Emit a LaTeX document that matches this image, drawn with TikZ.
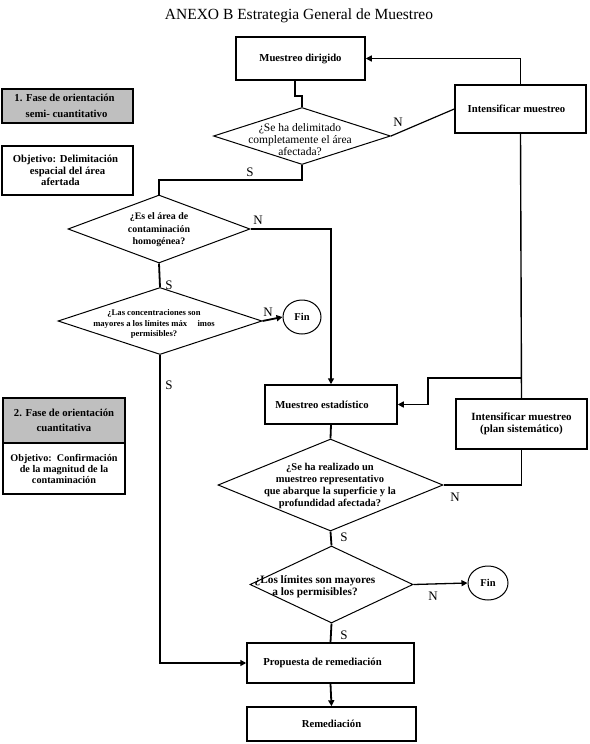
\documentclass[tikz,border=0pt]{standalone}
\usepackage{fontspec}
\setmainfont{Liberation Serif}
\usetikzlibrary{shapes.geometric,arrows.meta,calc}
\begin{document}
\begin{tikzpicture}[x=1pt,y=-1pt,
  box/.style={draw,line width=1.5pt,rectangle,inner sep=0pt,align=center,font=\bfseries\fontsize{10.7}{11.5}\selectfont},
  graybox/.style={box,fill=black!25,font=\bfseries\fontsize{10.7}{15.5}\selectfont},
  dia/.style={draw,line width=1pt,diamond,inner sep=0pt},
  diatext/.style={inner sep=0pt,align=center},
  finnode/.style={draw,line width=1pt,ellipse,inner sep=0pt,font=\bfseries\fontsize{10.5}{12}\selectfont},
  conn/.style={line width=1.8pt},
  arr/.style={conn,-{Triangle[length=6pt,width=6pt]}},
  lab/.style={font=\fontsize{13}{14}\selectfont,inner sep=0pt}]
\useasboundingbox (0,0) rectangle (589,744);
\node[font=\fontsize{15.5}{17}\selectfont] (title) at (299,16) {ANEXO B Estrategia General de Muestreo};

\node[box,minimum width=129pt,minimum height=43pt] (md) at (300.5,58.5) {Muestreo dirigido};
\node[dia,minimum width=177pt,minimum height=57pt,aspect=3.105] (d1) at (302,136) {};
\node[diatext,font=\fontsize{11.5}{12}\selectfont] (t1) at (300,140) {¿Se ha delimitado\\completamente el área\\afectada?};
\node[box,minimum width=131pt,minimum height=48pt] (int1) at (520.5,109) {Intensificar muestreo\hspace*{8pt}};

\node[graybox,minimum width=131pt,minimum height=34pt] (f1) at (67.5,106) {1. Fase de orientación\hspace*{6pt}\\\hspace*{4pt}semi- cuantitativo\hspace*{6pt}};
\node[box,minimum width=131pt,minimum height=49pt] (o1) at (67.5,170.5) {Objetivo: Delimitación\hspace*{4pt}\\espacial del área\hspace*{16pt}\\afertada\hspace*{14pt}};

\node[dia,minimum width=182pt,minimum height=68pt,aspect=2.676] (d2) at (159,229) {};
\node[diatext,font=\bfseries\fontsize{9.9}{12.5}\selectfont] (t2) at (159,230) {¿Es el área de\\contaminación\\homogénea?};
\node[dia,minimum width=204pt,minimum height=67pt,aspect=3.045] (d3) at (160,321) {};
\node[diatext,font=\bfseries\fontsize{8.6}{10.5}\selectfont] (t3) at (154,324) {¿Las concentraciones son\\mayores a los límites máx\hspace{1.2em}imos\\permisibles?};
\node[finnode,minimum width=38pt,minimum height=34pt] (fin1) at (302,317) {Fin};

\node[box,minimum width=132pt,minimum height=39pt] (me) at (331,404.5) {Muestreo estadístico\hspace*{18pt}};
\node[box,minimum width=131pt,minimum height=50pt,font=\bfseries\fontsize{11}{12}\selectfont] (int2) at (521.5,424) {Intensificar muestreo\\(plan sistemático)};

\node[graybox,minimum width=122pt,minimum height=45pt] (f2) at (64,420.5) {2. Fase de orientación\\cuantitativa};
\node[box,minimum width=122pt,minimum height=51pt,font=\bfseries\fontsize{10.2}{11}\selectfont] (o2) at (64,468.5) {Objetivo:\ \ Confirmación\\de la magnitud de la\\contaminación};

\node[dia,minimum width=225pt,minimum height=92pt,aspect=2.446] (d4) at (330.5,485) {};
\node[diatext,font=\bfseries\fontsize{10.5}{12}\selectfont] (t4) at (330,486) {¿Se ha realizado un\\muestreo representativo\\que abarque la superficie y la\\profundidad afectada?};
\node[dia,minimum width=163pt,minimum height=77pt,aspect=2.117] (d5) at (331.5,584.5) {};
\node[diatext,font=\bfseries\fontsize{11.3}{12.5}\selectfont] (t5) at (315,587) {¿Los límites son mayores\\a los permisibles?};
\node[finnode,minimum width=40pt,minimum height=34pt] (fin2) at (488,583) {Fin};

\node[box,minimum width=167pt,minimum height=40pt] (pr) at (330.5,663) {Propuesta de remediación\hspace*{16pt}};
\node[box,minimum width=169pt,minimum height=34pt] (rem) at (331.5,724) {Remediación};

\coordinate (j1) at (521,378);

% connectors
\draw[conn] ([xshift=-7pt]d1.north |- md.south) -- ++(0,15) -| (d1.north);
\draw[conn,line width=1.2pt] (d1.east) -- (int1.west);
\draw[arr] (int1.north) |- (md.east);
\draw[conn,line width=1.4pt] (int1.south) -- (int2.north);
\draw[arr] (j1) -| ($(me.east)+(30,0)$) -- (me.east);
\draw[conn] (int2.south) |- (d4.east);
\draw[conn] (d1.south) -- ++(0,15) -| (d2.north);
\draw[arr] (d2.east) -| (me.north);
\draw[conn] (d2.south) -- (d3.north);
\draw[arr] (d3.east) -- (fin1.west);
\draw[arr] (d3.south) |- (pr.west);
\draw[conn] (me.south) -- (d4.north);
\draw[conn] (d4.south) -- (d5.north);
\draw[arr,line width=1.3pt] (d5.east) -- (fin2.west);
\draw[conn] (d5.south) -- (pr.north);
\draw[arr] (pr.south) -- (rem.north);

% labels
\node[lab] (nl1) at (398,122) {N};
\node[lab] (sl1) at (250,172) {S};
\node[lab] (nl2) at (258,220) {N};
\node[lab] (sl2) at (169,285) {S};
\node[lab] (nl3) at (268,312) {N};
\node[lab] (sl3) at (169,385) {S};
\node[lab] (nl4) at (455,497) {N};
\node[lab] (sl4) at (344,537) {S};
\node[lab] (nl5) at (433,596) {N};
\node[lab] (sl5) at (344,635) {S};
\end{tikzpicture}
\end{document}
